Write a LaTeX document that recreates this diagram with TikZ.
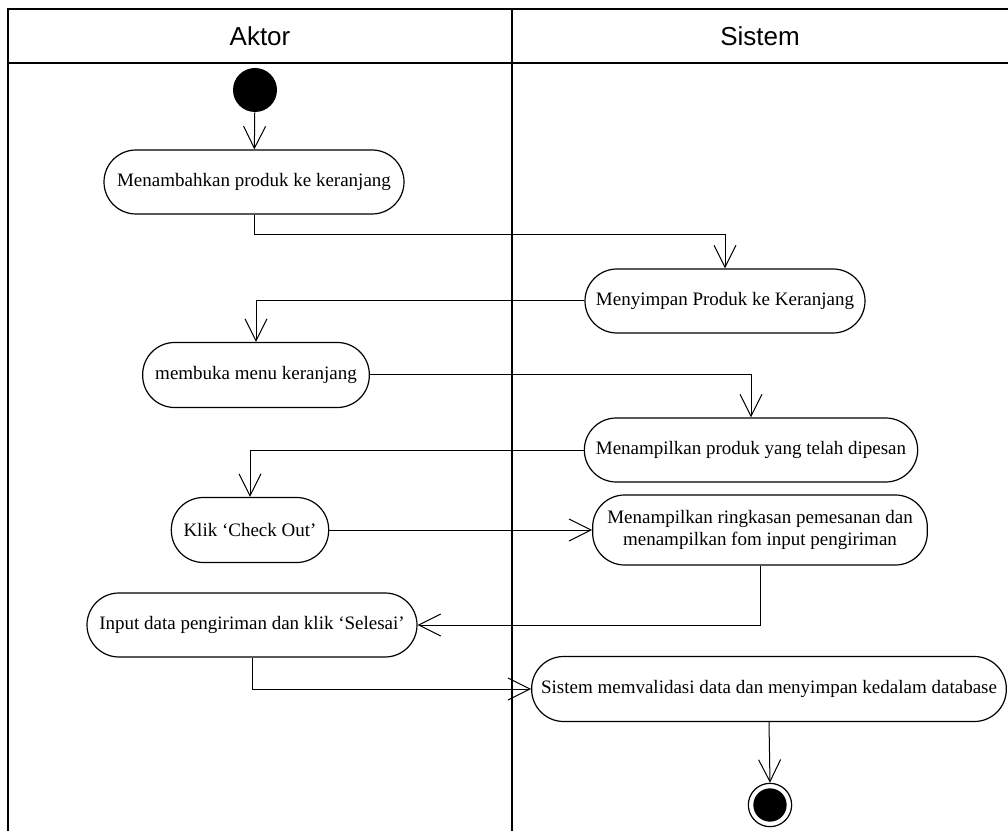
\documentclass[tikz,border=0pt]{standalone}
\usepackage{fontspec}
\setmainfont{Liberation Serif}
\newfontfamily\hdrfont{Liberation Sans}
\usetikzlibrary{arrows.meta}

\begin{document}
\begin{tikzpicture}[x=0.75pt,y=-0.75pt,
  act/.style={draw, line width=0.9pt, rounded corners=24pt, align=center,
    inner sep=0pt, font=\fontsize{14.25pt}{17pt}\selectfont},
  flow/.style={line width=0.75pt, -{Straight Barb[length=16.5pt,width=16.5pt,line width=0.75pt]}},
  lane/.style={line width=1.5pt},
  lanetitle/.style={font=\hdrfont\fontsize{19.5pt}{23pt}\selectfont}
]
\useasboundingbox (0,0) rectangle (1008,831);

% swimlane frame
\draw[lane] (8,831) -- (8,9) -- (1010,9);
\draw[lane] (8,63) -- (1010,63);
\draw[lane] (512,9) -- (512,831);
\node[lanetitle] (laneA) at (260,36) {Aktor};
\node[lanetitle] (laneS) at (760,36) {Sistem};

% initial and final states
\node[circle, fill=black, minimum size=33pt, inner sep=0pt] (start) at (255,90) {};
\node[circle, draw, line width=0.9pt, minimum size=32.5pt, inner sep=0pt] (stop) at (770,805) {};
\node[circle, fill=black, minimum size=25pt, inner sep=0pt] (stopdot) at (770,805) {};

% activities
\node[act, minimum width=225pt, minimum height=48pt] (a1) at (254,182) {Menambahkan produk ke keranjang};
\node[act, minimum width=210pt, minimum height=48pt] (a2) at (725,301) {Menyimpan Produk ke Keranjang};
\node[act, minimum width=170pt, minimum height=48.75pt] (a3) at (256,375) {membuka menu keranjang};
\node[act, minimum width=250pt, minimum height=48pt] (a4) at (751,450) {Menampilkan produk yang telah dipesan};
\node[act, minimum width=118pt, minimum height=48.75pt] (a5) at (250,530) {Klik ‘Check Out’};
\node[act, minimum width=251pt, minimum height=52.5pt] (a6) at (760,530) {Menampilkan ringkasan pemesanan dan\\menampilkan fom input pengiriman};
\node[act, minimum width=247.5pt, minimum height=48pt] (a7) at (252,625) {Input data pengiriman dan klik ‘Selesai’};
\node[act, minimum width=356pt, minimum height=48.75pt] (a8) at (769,689) {Sistem memvalidasi data dan menyimpan kedalam database};

% bend point
\coordinate (k1) at (725,235);

% control flow
\draw[flow] (start) -- (a1);
\draw[flow] (a1.south) |- (k1) -- (a2.north);
\draw[flow] (a2.west) -| (a3.north);
\draw[flow] (a3.east) -| (a4.north);
\draw[flow] (a4.west) -| (a5.north);
\draw[flow] (a5.east) -- (a6.west);
\draw[flow] (a6.south) |- (a7.east);
\draw[flow] (a7.south) |- (a8.west);
\draw[flow] (a8.south) -- (stop.north);
\end{tikzpicture}
\end{document}
